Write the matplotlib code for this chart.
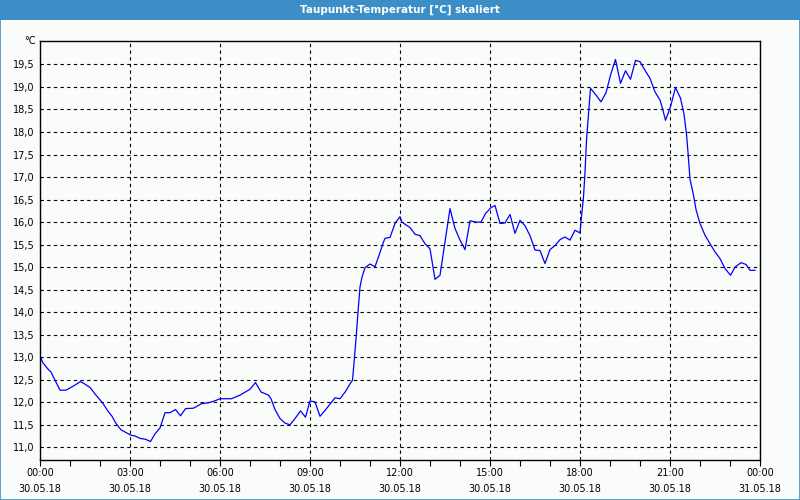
import matplotlib
matplotlib.use("Agg")
import matplotlib.pyplot as plt
from matplotlib.patches import Rectangle
from matplotlib.ticker import MultipleLocator, FixedLocator

# --- data (minutes after 00:00 on 30.05.18, dew point in °C) ---
minutes = [0, 5, 15, 22, 30, 40, 52, 65, 81, 89, 100, 112, 125, 135, 144, 152, 162, 172,
           182, 191, 200, 211, 221, 230, 240, 250, 260, 271, 281, 291, 307, 323, 337, 349,
           360, 383, 400, 420, 431, 442, 457, 462, 470, 480, 490, 500, 510, 521, 531, 540,
           550, 560, 570, 580, 590, 600, 611, 620, 625, 629, 633, 636, 640, 644, 650, 660,
           670, 677, 687, 690, 700, 710, 720, 724, 733, 740, 750, 760, 770, 780, 790, 800,
           810, 820, 830, 840, 850, 860, 872, 882, 891, 902, 910, 920, 930, 940, 950, 960,
           970, 980, 990, 1000, 1010, 1020, 1030, 1040, 1050, 1060, 1070, 1080, 1083, 1087,
           1090, 1093, 1097, 1101, 1112, 1122, 1132, 1141, 1151, 1161, 1171, 1181, 1191,
           1200, 1210, 1220, 1230, 1240, 1245, 1251, 1261, 1271, 1281, 1288, 1293, 1296,
           1300, 1307, 1312, 1320, 1330, 1340, 1350, 1360, 1370, 1381, 1390, 1402, 1412,
           1420, 1430]
dewpoint = [13.05, 12.89, 12.75, 12.67, 12.49, 12.27, 12.27, 12.35, 12.46, 12.41, 12.33,
            12.16, 11.99, 11.82, 11.69, 11.53, 11.39, 11.33, 11.27, 11.25, 11.20, 11.18,
            11.13, 11.30, 11.43, 11.77, 11.77, 11.84, 11.70, 11.86, 11.87, 11.97, 11.99,
            12.03, 12.08, 12.08, 12.16, 12.29, 12.44, 12.23, 12.16, 12.08, 11.84, 11.64,
            11.54, 11.50, 11.64, 11.81, 11.67, 12.03, 12.01, 11.69, 11.82, 11.96, 12.10,
            12.08, 12.24, 12.41, 12.49, 13.00, 13.55, 14.00, 14.56, 14.78, 14.99, 15.07,
            15.01, 15.23, 15.56, 15.64, 15.66, 15.97, 16.12, 16.00, 15.93, 15.88, 15.73,
            15.70, 15.52, 15.41, 14.73, 14.82, 15.56, 16.30, 15.86, 15.60, 15.39, 16.03,
            16.00, 16.00, 16.19, 16.32, 16.37, 15.97, 15.98, 16.17, 15.75, 16.04, 15.92,
            15.70, 15.38, 15.37, 15.08, 15.39, 15.48, 15.61, 15.67, 15.60, 15.82, 15.76,
            16.12, 16.56, 17.10, 17.82, 18.41, 18.97, 18.82, 18.67, 18.87, 19.26, 19.61,
            19.08, 19.36, 19.17, 19.59, 19.56, 19.37, 19.19, 18.89, 18.71, 18.52, 18.26,
            18.56, 18.99, 18.75, 18.40, 17.95, 17.55, 16.95, 16.60, 16.28, 15.97, 15.71,
            15.52, 15.34, 15.19, 14.97, 14.82, 15.00, 15.10, 15.06, 14.93, 14.93]

tick_hours = [0, 3, 6, 9, 12, 15, 18, 21, 24]
tick_times = ["00:00", "03:00", "06:00", "09:00", "12:00", "15:00", "18:00", "21:00", "00:00"]
tick_dates = ["30.05.18"] * 8 + ["31.05.18"]
y_ticks = [11.0 + 0.5 * i for i in range(18)]

title = "Taupunkt-Temperatur [°C] skaliert"
unit = "°C"

hours = [m / 60.0 for m in minutes]

bg = "#fafcfa"
fig = plt.figure(figsize=(8, 5), dpi=100, facecolor=bg)
ax = fig.add_axes([0.05, 0.08, 0.90, 0.838])
ax.set_facecolor(bg)

ax.plot(hours, dewpoint, color="#0000ff", lw=0.9)

ax.set_xlim(0, 24)
ax.set_ylim(10.72, 20.02)

ax.xaxis.set_major_locator(FixedLocator(tick_hours))
ax.set_xticklabels([f"{t}\n{d}" for t, d in zip(tick_times, tick_dates)],
                   fontsize=7, linespacing=1.75)
ax.xaxis.set_minor_locator(MultipleLocator(1))
ax.tick_params(axis="x", which="major", length=4, width=0.8, direction="out", pad=2)
ax.tick_params(axis="x", which="minor", length=4, width=0.8, direction="out")

ax.set_yticks(y_ticks)
ax.set_yticklabels([f"{v:.1f}".replace(".", ",") for v in y_ticks], fontsize=7)
ax.tick_params(axis="y", length=0, pad=4)

ax.grid(True, which="major", color="black", linestyle=(0, (3, 3)), linewidth=0.8)

for s in ax.spines.values():
    s.set_color("black")
    s.set_linewidth(1.0)

ax.text(-0.006, 1.0, unit, transform=ax.transAxes, ha="right", va="center", fontsize=7)

# title bar
fig.patches.append(Rectangle((0, 1 - 20 / 500), 1, 20 / 500, transform=fig.transFigure,
                             facecolor="#3c8fc6", edgecolor="none", zorder=0))
fig.text(0.5, 1 - 10 / 500, title, ha="center", va="center", color="white",
         fontsize=7.5, fontweight="bold")
# outer border
fig.patches.append(Rectangle((0.0006, 0.001), 0.9988, 0.998, transform=fig.transFigure,
                             facecolor="none", edgecolor="#3c8fc6", linewidth=1.2, zorder=1))

fig.savefig("out.png", dpi=100, facecolor=bg)
